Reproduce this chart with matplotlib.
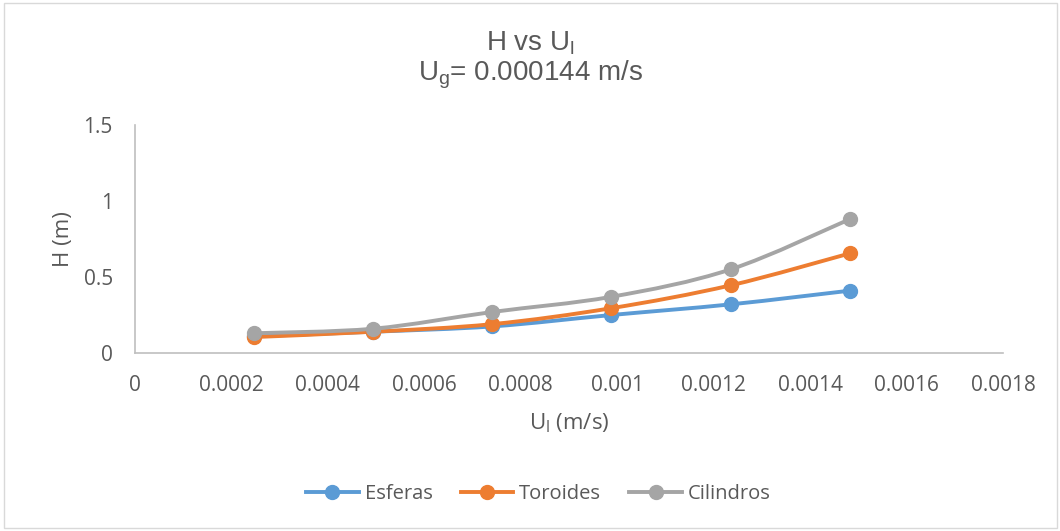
import numpy as np
import matplotlib.pyplot as plt
from matplotlib.path import Path
from matplotlib.patches import PathPatch, Rectangle
from matplotlib.lines import Line2D

# superficial liquid velocity (m/s)
ul = [0.000247, 0.000494, 0.000741, 0.000988, 0.001235, 0.001482]

# bed height H (m) per packing type
esferas = [0.11, 0.14, 0.175, 0.25, 0.32, 0.41]
toroides = [0.105, 0.14, 0.19, 0.295, 0.445, 0.655]
cilindros = [0.13, 0.16, 0.27, 0.37, 0.55, 0.88]

names = ["Esferas", "Toroides", "Cilindros"]
colors = ["#5B9BD5", "#ED7D31", "#A5A5A5"]

xticks = [0, 0.0002, 0.0004, 0.0006, 0.0008, 0.001, 0.0012, 0.0014, 0.0016, 0.0018]
xlabels = ["0", "0.0002", "0.0004", "0.0006", "0.0008", "0.001",
           "0.0012", "0.0014", "0.0016", "0.0018"]
yticks = [0, 0.5, 1, 1.5]
ylabels = ["0", "0.5", "1", "1.5"]

txt = "#595959"
plt.rcParams['font.family'] = ['Open Sans', 'DejaVu Sans']


def smooth_path(ax, x, y, t=1 / 6):
    # cubic bezier through the points (catmull-rom style), in display space
    pts = ax.transData.transform(np.column_stack([x, y]))
    n = len(pts)
    verts = [pts[0]]
    codes = [Path.MOVETO]
    for i in range(n - 1):
        p0 = pts[i - 1] if i > 0 else pts[i]
        p1 = pts[i]
        p2 = pts[i + 1]
        p3 = pts[i + 2] if i + 2 < n else pts[i + 1]
        c1 = p1 + (p2 - p0) * t
        c2 = p2 - (p3 - p1) * t
        verts += [c1, c2, p2]
        codes += [Path.CURVE4] * 3
    return Path(verts, codes)


fig = plt.figure(figsize=(10.6, 5.31), dpi=100)
ax = fig.add_axes([0.1274, 0.3352, 0.8188, 0.4294])
ax.set_xlim(0, 0.0018)
ax.set_ylim(0, 1.5)
ax.set_xticks(xticks)
ax.set_xticklabels(xlabels)
ax.set_yticks(yticks)
ax.set_yticklabels(ylabels)
ax.tick_params(length=0, labelsize=15, colors=txt)
ax.tick_params(axis='x', pad=16)
ax.tick_params(axis='y', pad=16)
for s in ["top", "right"]:
    ax.spines[s].set_visible(False)
for s in ["left", "bottom"]:
    ax.spines[s].set_color("#BFBFBF")
    ax.spines[s].set_linewidth(1.2)

fig.canvas.draw()
handles = []
for name, ys, c in zip(names, [esferas, toroides, cilindros], colors):
    path = smooth_path(ax, ul, ys)
    ax.add_patch(PathPatch(path, transform=None, fill=False, edgecolor=c,
                           lw=2.8, capstyle='round', zorder=3))
    ax.plot(ul, ys, 'o', color=c, ms=10, zorder=4, clip_on=False)
    handles.append(Line2D([], [], color=c, lw=2.8, marker='o', ms=10))

ax.set_xlabel("U$_\\mathregular{l}$ (m/s)", fontsize=16, color=txt, va='center')
ax.set_ylabel("H (m)", fontsize=16, color=txt, va='center')
ax.xaxis.set_label_coords(0.5, -0.31)
ax.yaxis.set_label_coords(-0.082, 0.5)

fig.text(0.5, 0.919, "H vs U$_\\mathregular{l}$", ha='center', va='center',
         fontsize=20, color=txt, family='Liberation Sans')
fig.text(0.5, 0.860, "U$_\\mathregular{g}$= 0.000144 m/s", ha='center', va='center',
         fontsize=20, color=txt, family='Liberation Sans')

fig.legend(handles, names, loc='center', bbox_to_anchor=(0.508, 0.07), ncol=3,
           frameon=False, fontsize=14.5, labelcolor=txt, handlelength=2.6,
           columnspacing=1.4, handletextpad=0.3)

fig.add_artist(Rectangle((0.004, 0.006), 0.993, 0.988, transform=fig.transFigure,
                         fill=False, edgecolor="#D9D9D9", lw=1))

fig.savefig("out.png", dpi=100)
